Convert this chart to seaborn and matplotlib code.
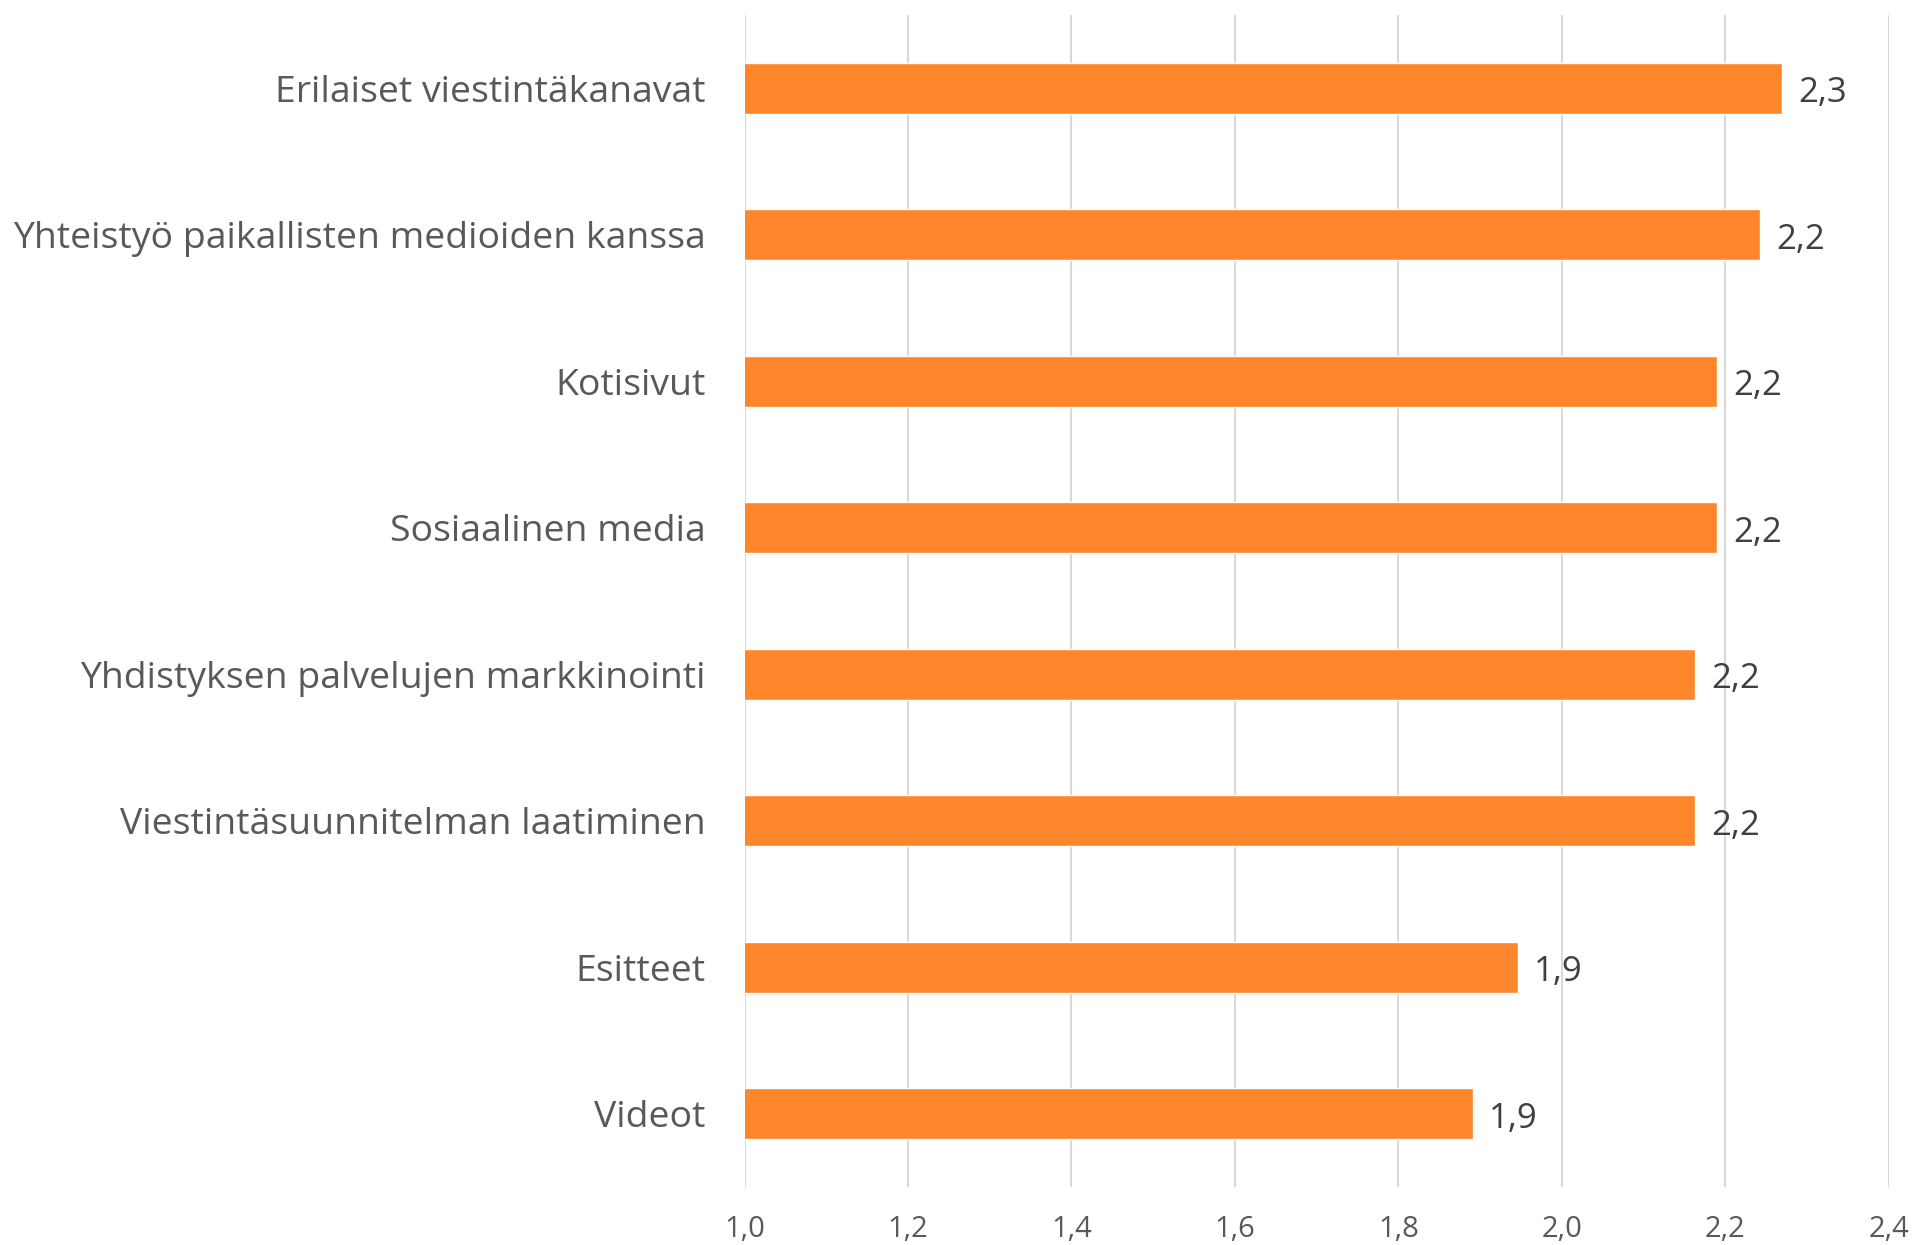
import matplotlib
matplotlib.use("Agg")
import matplotlib.pyplot as plt
import seaborn as sns
import pandas as pd

categories = [
    "Erilaiset viestintäkanavat",
    "Yhteistyö paikallisten medioiden kanssa",
    "Kotisivut",
    "Sosiaalinen media",
    "Yhdistyksen palvelujen markkinointi",
    "Viestintäsuunnitelman laatiminen",
    "Esitteet",
    "Videot",
]
values = [2.27, 2.243, 2.19, 2.19, 2.163, 2.163, 1.946, 1.891]
x_ticks = [1.0, 1.2, 1.4, 1.6, 1.8, 2.0, 2.2, 2.4]

sns.set_theme(style="white")
plt.rcParams["font.family"] = ["Open Sans", "DejaVu Sans"]

df = pd.DataFrame({"cat": categories, "val": values})

fig = plt.figure(figsize=(19.14, 12.45), dpi=100)
ax = fig.add_axes([0.389, 0.0466, 0.5978, 0.9414])

sns.barplot(data=df, y="cat", x="val", orient="h", color="#FF862A",
            width=0.35, saturation=1, ax=ax, zorder=3)

ax.set_xlim(1.0, 2.4)
ax.set_xticks(x_ticks)
ax.set_xticklabels([f"{t:.1f}".replace(".", ",") for t in x_ticks],
                   fontsize=21, color="#595959")
ax.set_ylim(len(categories) - 0.5, -0.5)
ax.tick_params(axis="y", labelsize=26.9, labelcolor="#595959", length=0, pad=28)
ax.tick_params(axis="x", length=0, pad=20)
ax.set_xlabel("")
ax.set_ylabel("")
for s in ax.spines.values():
    s.set_visible(False)
ax.grid(axis="x", color="#D9D9D9", linewidth=1.5, zorder=0)
ax.grid(axis="y", visible=False)
ax.set_axisbelow(True)

for i, v in enumerate(values):
    ax.annotate(f"{v:.1f}".replace(".", ","), xy=(v, i), xytext=(16, -5),
                textcoords="offset pixels",
                va="center", ha="left", fontsize=25, color="#404040")

fig.savefig("out.png", dpi=100)
